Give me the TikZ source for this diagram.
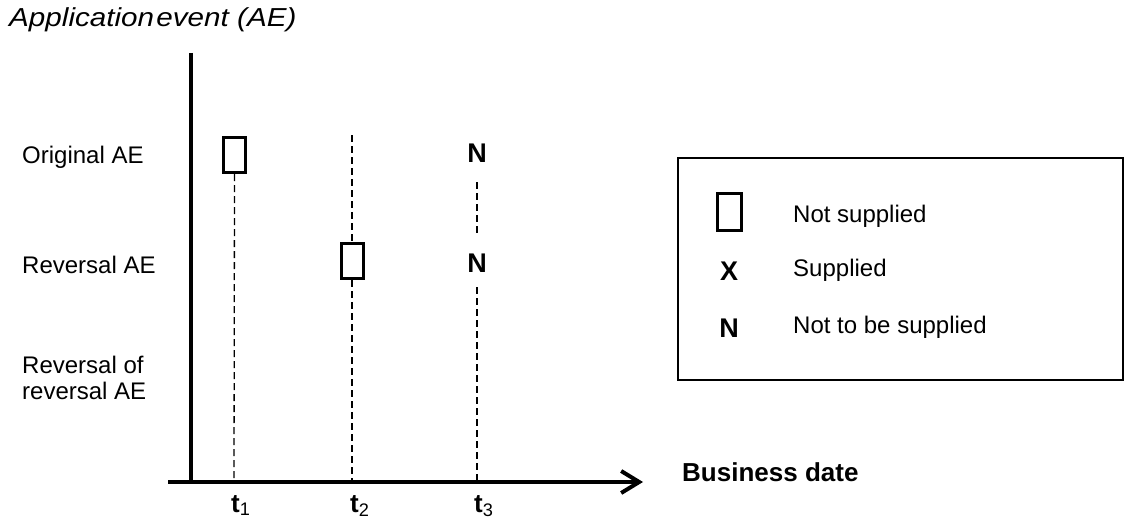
\documentclass[tikz,border=0pt]{standalone}
\usepackage{fontspec}
\setmainfont{Liberation Sans}
\usetikzlibrary{arrows.meta}
\begin{document}
\begin{tikzpicture}[x=1pt,y=-1pt,
  axis/.style={line width=4pt},
  guide/.style={line width=1.3pt, dash pattern=on 7pt off 4pt},
  hollow/.style={draw, line width=3pt, minimum width=22pt, minimum height=35pt, inner sep=0pt},
  rowlabel/.style={anchor=west, inner sep=0pt, font=\fontsize{24}{26}\selectfont, align=left},
  nmark/.style={inner sep=0pt, text height=20pt, text depth=0pt, font=\fontsize{27}{29}\selectfont\bfseries},
  tlabel/.style={anchor=base west, inner sep=0pt, font=\fontsize{26}{28}\selectfont},
  legtext/.style={anchor=west, inner sep=0pt, font=\fontsize{24}{26}\selectfont}]
\useasboundingbox (0,0) rectangle (1126,524);
% title
\node[anchor=west, inner sep=0pt, font=\fontsize{26}{28}\selectfont\itshape] (title) at (9,20) {\scalebox{1.14}[1]{Application\hspace{2pt}event (AE)}};
% axes
\coordinate (ytop) at (191,53);
\coordinate (ybot) at (191,484);
\coordinate (xleft) at (168,482);
\coordinate (xright) at (643,482);
\draw[axis] (ytop) -- (ybot);
\draw[axis, -{Straight Barb[length=18pt,width=22pt]}] (xleft) -- (xright);
% axis points
\coordinate (a1) at (234,482);
\coordinate (a2) at (352,482);
\coordinate (a3) at (477,482);
\coordinate (t2top) at (352,135);
% row labels
\node[rowlabel] (orig) at (22,157) {Original AE};
\node[rowlabel] (rev) at (22,265) {Reversal AE};
\node[rowlabel] (revrev) at (22,378) {Reversal of\\reversal AE};
% marks
\node[hollow] (b1) at (234.5,155) {};
\node[hollow] (b2) at (352,261) {};
\node[nmark] (n1) at (477,152) {N};
\node[nmark] (n2) at (477,262) {N};
% guides
\draw[guide] (b1.south) -- (a1);
\draw[guide] (t2top) -- (b2.north);
\draw[guide] (b2.south) -- (a2);
\draw[guide, shorten <=20pt, shorten >=18pt] (n1.south) -- (n2.north);
\draw[guide, shorten <=15pt] (n2.south) -- (a3);
% tick labels
\node[tlabel] (t1) at (231,512) {\textbf{t}\textsubscript{1}};
\node[tlabel] (t2) at (350,512) {\textbf{t}\textsubscript{2}};
\node[tlabel] (t3) at (474,512) {\textbf{t}\textsubscript{3}};
\node[anchor=west, inner sep=0pt, font=\fontsize{26}{28}\selectfont\bfseries] (bdate) at (682,472) {Business date};
% legend
\node[draw, line width=1.2pt, minimum width=445pt, minimum height=222pt, inner sep=0pt] (leg) at (900.5,269) {};
\node[hollow, minimum width=24pt, minimum height=37pt] (lbox) at (729,211.5) {};
\node[nmark] (lx) at (729,270) {X};
\node[nmark] (ln) at (729,327) {N};
\node[legtext] (l1) at (793,216) {Not supplied};
\node[legtext] (l2) at (793,270) {Supplied};
\node[legtext] (l3) at (793,327) {Not to be supplied};
\end{tikzpicture}
\end{document}
